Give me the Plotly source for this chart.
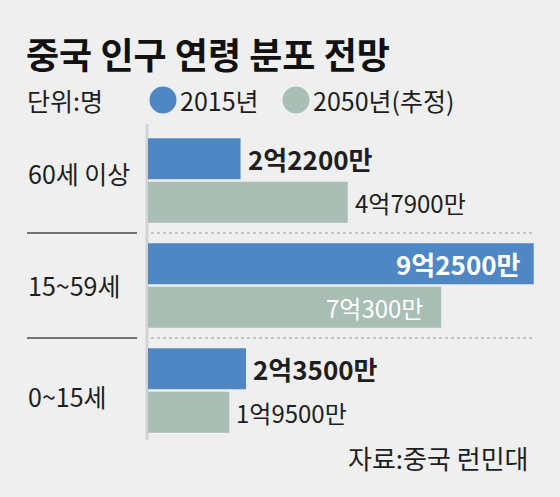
import plotly.graph_objects as go

# ---- data ----
categories = ["60세 이상", "15~59세", "0~15세"]
series_names = ["2015년", "2050년(추정)"]
values_2015 = [22200, 92500, 23500]   # 단위: 만 명
values_2050 = [47900, 70300, 19500]   # 단위: 만 명
title_text = "중국 인구 연령 분포 전망"
unit_text = "단위:명"
source_text = "자료:중국 런민대"

# ---- style ----
BG = "#efefef"
BLUE = "#4f87c5"
GRAY = "#a9beb5"
TXT = "#1e1e1e"
FONT = "Noto Sans CJK KR"

W, H = 560, 497
L, R, T, B = 148, 12, 128, 54
PW, PH = W - L - R, H - T - B


def px(xp):
    return (xp - L) / PW


def py(yp):
    return (H - B - yp) / PH


def fmt(v):
    eok, man = divmod(v, 10000)
    return f"{eok}억{man}만"


BARGAP = 0.171
GROUPGAP = 0.057
slot = (1 - BARGAP) / 2
off = slot / 2

fig = go.Figure()
for name, vals, color in [(series_names[0], values_2015, BLUE),
                          (series_names[1], values_2050, GRAY)]:
    fig.add_trace(go.Bar(
        y=categories, x=[v / 10000 for v in vals], name=name,
        orientation="h", marker=dict(color=color, line=dict(width=0)),
        showlegend=False, hoverinfo="skip",
    ))

ann = []
# value labels
for si, vals in enumerate([values_2015, values_2050]):
    for ci, v in enumerate(vals):
        inside = v / 10000 > 6
        yy = ci - off if si == 0 else ci + off
        txt = fmt(v)
        if si == 0:
            txt = f"<b>{txt}</b>"
        ann.append(dict(
            x=v / 10000, y=yy, xref="x", yref="y", text=txt, showarrow=False,
            xanchor="right" if inside else "left", yanchor="middle",
            xshift=(-11 if si == 0 else -16) if inside else 5,
            font=dict(family=FONT, size=26 if si == 0 else 24,
                      color="#ffffff" if inside else TXT),
        ))

# category labels
cat_shift = [8, 1, -5]
for ci, c in enumerate(categories):
    ann.append(dict(x=px(26), y=ci, xref="paper", yref="y", text=c,
                    showarrow=False, xanchor="left", yanchor="middle",
                    yshift=cat_shift[ci],
                    font=dict(family=FONT, size=25, color=TXT)))

# title, unit, legend, source
ann.append(dict(x=px(24), y=py(53), xref="paper", yref="paper", text=f"<b>{title_text}</b>",
                showarrow=False, xanchor="left", yanchor="middle",
                font=dict(family=FONT, size=36, color="#111111")))
ann.append(dict(x=px(25), y=py(100), xref="paper", yref="paper", text=unit_text,
                showarrow=False, xanchor="left", yanchor="middle",
                font=dict(family=FONT, size=25, color=TXT)))
ann.append(dict(x=px(178), y=py(100), xref="paper", yref="paper", text=series_names[0],
                showarrow=False, xanchor="left", yanchor="middle",
                font=dict(family=FONT, size=25, color=TXT)))
ann.append(dict(x=px(311), y=py(100), xref="paper", yref="paper", text=series_names[1],
                showarrow=False, xanchor="left", yanchor="middle",
                font=dict(family=FONT, size=25, color=TXT)))
ann.append(dict(x=px(531), y=py(457), xref="paper", yref="paper", text=source_text,
                showarrow=False, xanchor="right", yanchor="middle",
                font=dict(family=FONT, size=26, color=TXT)))

shapes = []
# legend circles
for cx, col in [(163, BLUE), (296, GRAY)]:
    shapes.append(dict(type="circle", xref="paper", yref="paper",
                       x0=px(cx - 13.5), x1=px(cx + 13.5),
                       y0=py(100 + 13.5), y1=py(100 - 13.5),
                       fillcolor=col, line=dict(width=0)))
# separators
for yb in [0.5, 1.5]:
    shapes.append(dict(type="line", xref="paper", yref="y",
                       x0=px(151), x1=px(535), y0=yb, y1=yb,
                       line=dict(color="#9a9a9a", width=1, dash="dot")))
    shapes.append(dict(type="line", xref="paper", yref="y",
                       x0=px(27), x1=px(137), y0=yb, y1=yb,
                       line=dict(color="#4a4a4a", width=1.5)))
# vertical axis line
shapes.append(dict(type="line", xref="paper", yref="paper",
                   x0=px(147), x1=px(147), y0=py(124), y1=py(440),
                   line=dict(color="#d3d3d3", width=3), layer="below"))

fig.update_layout(
    width=W, height=H,
    margin=dict(l=L, r=R, t=T, b=B, pad=0),
    paper_bgcolor=BG, plot_bgcolor=BG,
    barmode="group", bargap=BARGAP, bargroupgap=GROUPGAP,
    xaxis=dict(range=[0, PW / 41.7], visible=False, fixedrange=True),
    yaxis=dict(type="category", categoryorder="array", categoryarray=categories,
               range=[2.5, -0.5], showticklabels=False, showgrid=False,
               zeroline=False, showline=False, ticks="", fixedrange=True),
    annotations=ann, shapes=shapes,
    font=dict(family=FONT),
)

fig.write_html(
    "out.html",
    config={"displayModeBar": False},
    post_script="document.body.style.margin='0';document.body.style.background='#efefef';",
)
